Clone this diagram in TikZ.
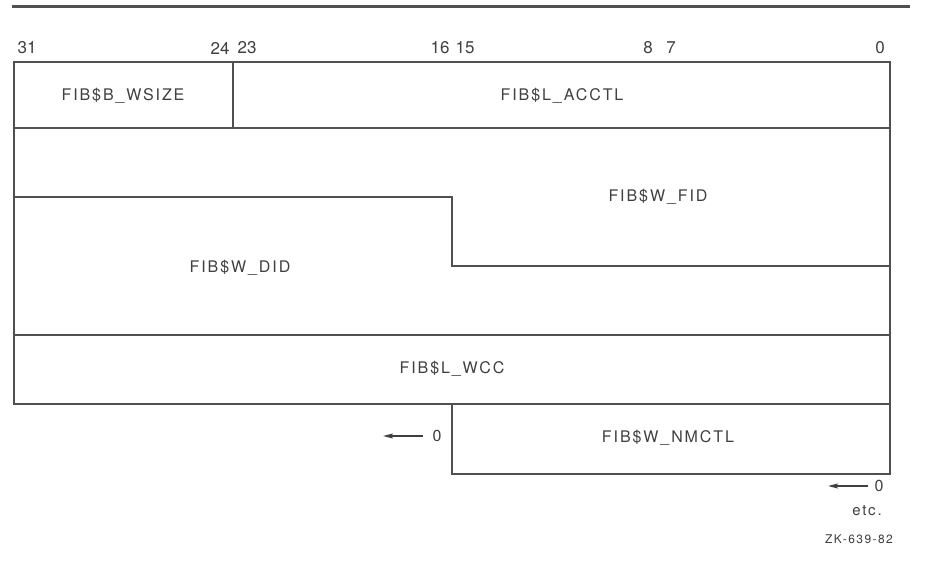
\documentclass[tikz,border=0pt]{standalone}
\usepackage{fontspec}
\setmainfont{TeX Gyre Heros}[LetterSpace=12]
\newfontfamily\numfont{TeX Gyre Heros}
\usetikzlibrary{arrows.meta}
\definecolor{ink}{HTML}{404040}
\definecolor{rule}{HTML}{505050}
\tikzset{
  px/.style={x=1pt,y=-1pt},
  field/.style={font=\fontsize{16}{19}\selectfont, text=ink, inner sep=0pt},
  bitno/.style={font=\numfont\fontsize{17}{20}\selectfont, text=ink, inner sep=0pt},
  small/.style={font=\fontsize{15}{18}\selectfont, text=ink, inner sep=0pt},
  boxline/.style={draw=rule, line width=1.4pt},
  zeroarrow/.style={draw=ink, line width=1.5pt, -{Stealth[length=10pt,width=5pt,inset=2pt]}},
}
\begin{document}
\begin{tikzpicture}[px]
\useasboundingbox[fill=white] (0,0) rectangle (928,572);
% top rule
\draw[rule, line width=3pt] (12,7) -- (910,7);
% bit numbers
\node[bitno] (b31) at (27,48) {31};
\node[bitno] (b24) at (220,48) {24};
\node[bitno] (b23) at (247,48) {23};
\node[bitno] (b16) at (440,48) {16};
\node[bitno] (b15) at (465,48) {15};
\node[bitno] (b8) at (648,48) {8};
\node[bitno] (b7) at (671,48) {7};
\node[bitno] (b0) at (880,48) {0};
% main box rows
\draw[boxline] (14,62) rectangle (890,404);
\draw[boxline] (233,62) -- (233,128);
\draw[boxline] (14,128) -- (890,128);
\draw[boxline] (14,197) -- (452,197) -- (452,266) -- (890,266);
\draw[boxline] (14,335) -- (890,335);
% NMCTL box
\draw[boxline] (452,404) -- (452,474) -- (890,474) -- (890,404);
% field labels
\node[field] (wsize) at (123,96) {FIB\$B\_WSIZE};
\node[field] (acctl) at (562,96) {FIB\$L\_ACCTL};
\node[field] (fid) at (658,197) {FIB\$W\_FID};
\node[field] (did) at (240,268) {FIB\$W\_DID};
\node[field] (wcc) at (452,369) {FIB\$L\_WCC};
\node[field] (nmctl) at (668,438) {FIB\$W\_NMCTL};
% zero markers
\node[field] (z1) at (437,436) {0};
\coordinate (a1s) at (423,436);
\coordinate (a1e) at (383,436);
\draw[zeroarrow] (a1s) -- (a1e);
\node[field] (z2) at (879,486) {0};
\coordinate (a2s) at (868,486);
\coordinate (a2e) at (828,486);
\draw[zeroarrow] (a2s) -- (a2e);
\node[small] (etc) at (867,511) {etc.};
\node[font=\fontsize{12}{14}\selectfont, text=ink, inner sep=0pt] (zk) at (859,539) {ZK-639-82};
\end{tikzpicture}
\end{document}
